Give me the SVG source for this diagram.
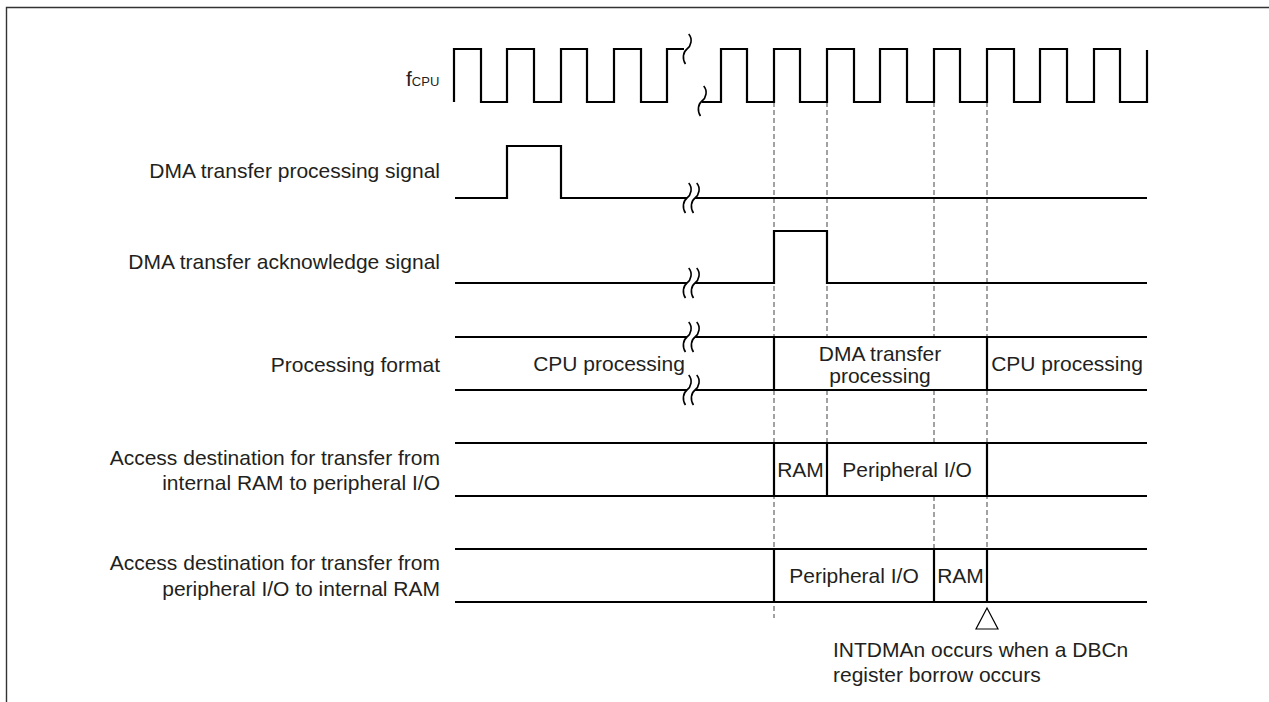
<svg xmlns="http://www.w3.org/2000/svg" xmlns:xlink="http://www.w3.org/1999/xlink" width="1269" height="702" viewBox="0 0 1269 702">
<style>
text{font-family:"Liberation Sans",Arial,sans-serif;font-size:21px;fill:#231f20}
.lbl{text-anchor:end}
.mid{text-anchor:middle}
.sig{fill:none;stroke:#000;stroke-width:2.2;stroke-linecap:butt;stroke-linejoin:miter}
.guide{fill:none;stroke:#444;stroke-width:1;stroke-dasharray:5 3}
.brk{fill:none;stroke:#000;stroke-width:1.6}
</style>
<defs>
<path id="sq" class="brk" d="M1.7,-15 C6,-10 4,-3 0,0 C-4,3 -5,10 -1.5,15"/>
</defs>
<rect width="1269" height="702" fill="#fff"/>
<path d="M6.5,702 V7.5 H1269" fill="none" stroke="#333" stroke-width="1.4"/>

<g id="connectors">
<path class="guide" d="M774,102 V618"/>
<path class="guide" d="M827,102 V337 M827,390 V443"/>
<path class="guide" d="M934,102 V337 M934,390 V443 M934,496 V549"/>
<path class="guide" d="M987,102 V602"/>
</g>

<g id="fcpu">
<text x="406" y="86">f<tspan font-size="13">CPU</tspan></text>
<path class="sig" d="M454,102 V49 H481 V102 H507 V49 H534 V102 H561 V49 H587 V102 H614 V49 H641 V102 H667 V49 H684"/>
<path class="sig" d="M702,102 H721 V49 H747 V102 H774 V49 H800 V102 H827 V49 H854 V102 H880 V49 H907 V102 H934 V49 H960 V102 H987 V49 H1014 V102 H1040 V49 H1067 V102 H1094 V49 H1120 V102 H1147 V50"/>
<use xlink:href="#sq" x="687" y="49"/>
<use xlink:href="#sq" x="702" y="101"/>
</g>

<g id="dma-processing-signal">
<text class="lbl" x="440" y="177.5">DMA transfer processing signal</text>
<path class="sig" d="M455,198 H507 V146 H561 V198 H687 M695,198 H1147"/>
<use xlink:href="#sq" x="687" y="198"/>
<use xlink:href="#sq" x="695" y="198"/>
</g>

<g id="dma-ack-signal">
<text class="lbl" x="440" y="268.5">DMA transfer acknowledge signal</text>
<path class="sig" d="M455,283 H687 M695,283 H774 V231 H827 V283 H1147"/>
<use xlink:href="#sq" x="687" y="283"/>
<use xlink:href="#sq" x="695" y="283"/>
</g>

<g id="processing-format">
<text class="lbl" x="440" y="371.5">Processing format</text>
<path class="sig" d="M455,337 H687 M695,337 H1147 M455,390 H687 M695,390 H1147 M774,337 V390 M987,337 V390"/>
<use xlink:href="#sq" x="687" y="337"/>
<use xlink:href="#sq" x="695" y="337"/>
<use xlink:href="#sq" x="687" y="390"/>
<use xlink:href="#sq" x="695" y="390"/>
<text class="mid" x="609" y="371">CPU processing</text>
<text class="mid" x="880" y="360.5">DMA transfer</text>
<text class="mid" x="880" y="382.5">processing</text>
<text class="mid" x="1067" y="371">CPU processing</text>
</g>

<g id="ram-to-io">
<text class="lbl" x="440" y="464.5">Access destination for transfer from</text>
<text class="lbl" x="440" y="489.5">internal RAM to peripheral I/O</text>
<path class="sig" d="M455,443 H1147 M455,496 H1147 M774,443 V496 M827,443 V496 M987,443 V496"/>
<text class="mid" x="800.5" y="477">RAM</text>
<text class="mid" x="907" y="477">Peripheral I/O</text>
</g>

<g id="io-to-ram">
<text class="lbl" x="440" y="570">Access destination for transfer from</text>
<text class="lbl" x="440" y="595.5">peripheral I/O to internal RAM</text>
<path class="sig" d="M455,549 H1147 M455,602 H1147 M774,549 V602 M934,549 V602 M987,549 V602"/>
<text class="mid" x="854" y="583">Peripheral I/O</text>
<text class="mid" x="960.5" y="583">RAM</text>
</g>

<g id="intdma-note">
<polygon points="987,608 976,629 998,629" fill="#fff" stroke="#000" stroke-width="1.2"/>
<text x="833" y="657">INTDMAn occurs when a DBCn</text>
<text x="833" y="682">register borrow occurs</text>
</g>
</svg>
